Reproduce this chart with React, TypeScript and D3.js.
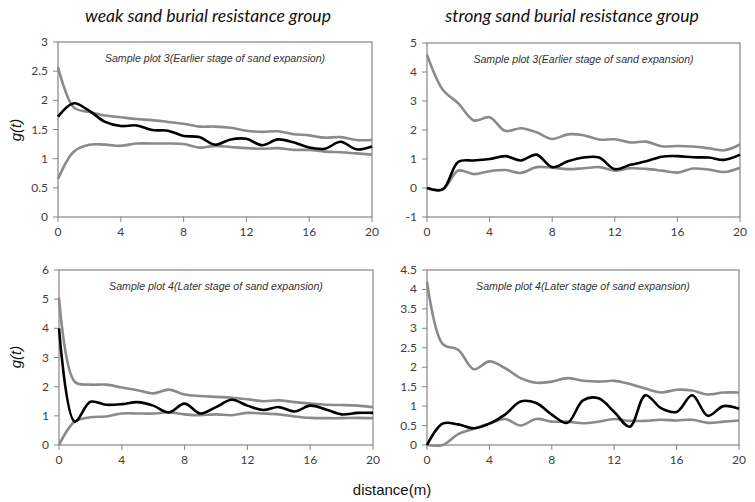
import * as d3 from 'd3'

const distance = [0, 1, 2, 3, 4, 5, 6, 7, 8, 9, 10, 11, 12, 13, 14, 15, 16, 17, 18, 19, 20]
const xTicks = [0, 4, 8, 12, 16, 20]

// weak group, plot 3
const weak3Upper = [2.57, 1.88, 1.8, 1.74, 1.71, 1.68, 1.66, 1.63, 1.6, 1.55, 1.55, 1.53, 1.48, 1.46, 1.47, 1.42, 1.4, 1.36, 1.37, 1.32, 1.32]
const weak3Obs = [1.72, 1.95, 1.82, 1.63, 1.56, 1.57, 1.49, 1.48, 1.39, 1.37, 1.24, 1.33, 1.34, 1.23, 1.33, 1.28, 1.19, 1.17, 1.29, 1.16, 1.21]
const weak3Lower = [0.65, 1.12, 1.24, 1.24, 1.22, 1.26, 1.26, 1.26, 1.25, 1.19, 1.22, 1.2, 1.18, 1.17, 1.18, 1.15, 1.15, 1.12, 1.11, 1.09, 1.07]

// strong group, plot 3
const strong3Upper = [4.6, 3.4, 2.92, 2.33, 2.44, 1.97, 2.06, 1.92, 1.69, 1.85, 1.82, 1.67, 1.68, 1.57, 1.6, 1.44, 1.45, 1.43, 1.37, 1.3, 1.5]
const strong3Obs = [0, -0.05, 0.9, 0.95, 1.0, 1.1, 0.95, 1.15, 0.72, 0.92, 1.05, 1.05, 0.65, 0.8, 0.92, 1.08, 1.1, 1.06, 1.05, 0.97, 1.15]
const strong3Lower = [0, -0.05, 0.6, 0.48, 0.58, 0.62, 0.52, 0.72, 0.7, 0.65, 0.68, 0.72, 0.6, 0.68, 0.66, 0.6, 0.53, 0.67, 0.64, 0.55, 0.7]

// weak group, plot 4
const weak4Upper = [5.05, 2.17, 2.07, 2.07, 1.97, 1.88, 1.77, 1.9, 1.73, 1.68, 1.65, 1.62, 1.57, 1.5, 1.53, 1.47, 1.42, 1.38, 1.37, 1.35, 1.3]
const weak4Obs = [4.0, 0.8, 1.48, 1.38, 1.4, 1.47, 1.35, 1.12, 1.42, 1.08, 1.3, 1.55, 1.35, 1.2, 1.3, 1.15, 1.35, 1.22, 1.05, 1.1, 1.1]
const weak4Lower = [0, 0.8, 0.95, 0.98, 1.08, 1.08, 1.08, 1.12, 1.05, 1.02, 1.05, 1.02, 1.1, 1.08, 1.05, 0.98, 0.93, 0.92, 0.92, 0.93, 0.92]

// strong group, plot 4
const strong4Upper = [4.2, 2.6, 2.45, 1.95, 2.15, 1.98, 1.72, 1.6, 1.63, 1.72, 1.65, 1.63, 1.65, 1.57, 1.45, 1.35, 1.42, 1.4, 1.3, 1.35, 1.35]
const strong4Obs = [0, 0.55, 0.53, 0.43, 0.55, 0.78, 1.12, 1.08, 0.78, 0.57, 1.15, 1.2, 0.85, 0.47, 1.28, 0.95, 0.85, 1.28, 0.75, 1.0, 0.93]
const strong4Lower = [0, 0, 0.28, 0.42, 0.55, 0.67, 0.5, 0.67, 0.6, 0.6, 0.56, 0.6, 0.67, 0.62, 0.62, 0.65, 0.63, 0.65, 0.57, 0.6, 0.63]

const titles = ['weak sand burial resistance group', 'strong sand burial resistance group']
const plotLabels = ['Sample plot 3(Earlier stage of sand expansion)', 'Sample plot 4(Later stage of sand expansion)']

const GRAY = '#8a8a8a'
const FRAME = '#868686'

type PanelProps = {
  left: number
  top: number
  width: number
  height: number
  yDomain: [number, number]
  yTicks: number[]
  label: string
  upper: number[]
  obs: number[]
  lower: number[]
}

function Panel({ left, top, width, height, yDomain, yTicks, label, upper, obs, lower }: PanelProps) {
  const x = d3.scaleLinear().domain([0, 20]).range([0, width])
  const y = d3.scaleLinear().domain(yDomain).range([height, 0])
  const line = d3
    .line<number>()
    .x((_, i) => x(distance[i]))
    .y((d) => y(d))
    .curve(d3.curveCatmullRom.alpha(0.5))

  return (
    <g transform={`translate(${left}, ${top})`}>
      <rect x={0} y={0} width={width} height={height} fill="none" stroke={FRAME} strokeWidth={1.2} />
      {yTicks.map((t) => (
        <g key={`y-${t}`} transform={`translate(0, ${y(t)})`}>
          <line x1={-5} x2={0} stroke={FRAME} />
          <text x={-10} y={4} textAnchor="end" fontFamily="Lato, 'Open Sans', sans-serif" fontSize={12} fill="#404040">
            {t}
          </text>
        </g>
      ))}
      {xTicks.map((t) => (
        <g key={`x-${t}`} transform={`translate(${x(t)}, ${height})`}>
          <line y1={0} y2={5} stroke={FRAME} />
          <text y={19} textAnchor="middle" fontFamily="Lato, 'Open Sans', sans-serif" fontSize={12} fill="#404040">
            {t}
          </text>
        </g>
      ))}
      <text
        x={width / 2}
        y={20}
        textAnchor="middle"
        fontFamily="'Liberation Sans', Arial, sans-serif"
        fontStyle="italic"
        fontSize={10.6}
        fill="#333"
      >
        {label}
      </text>
      <path d={line(upper) ?? ''} fill="none" stroke={GRAY} strokeWidth={2.6} />
      <path d={line(lower) ?? ''} fill="none" stroke={GRAY} strokeWidth={2.6} />
      <path d={line(obs) ?? ''} fill="none" stroke="#000" strokeWidth={2.6} />
    </g>
  )
}

export default function App() {
  return (
    <svg width={755} height={502} style={{ position: 'absolute', left: 0, top: 0, background: '#fff' }}>
      <rect width={755} height={502} fill="#fff" />
      <text x={208} y={22} textAnchor="middle" fontFamily="Lato, 'Open Sans', sans-serif" fontStyle="italic" fontSize={17.6} fill="#111">
        {titles[0]}
      </text>
      <text x={572} y={22} textAnchor="middle" fontFamily="Lato, 'Open Sans', sans-serif" fontStyle="italic" fontSize={17.6} fill="#111">
        {titles[1]}
      </text>

      <Panel left={58} top={42} width={314} height={175} yDomain={[0, 3]} yTicks={d3.range(0, 3.01, 0.5)} label={plotLabels[0]} upper={weak3Upper} obs={weak3Obs} lower={weak3Lower} />
      <Panel left={427} top={43} width={313} height={174} yDomain={[-1, 5]} yTicks={d3.range(-1, 5.01, 1)} label={plotLabels[0]} upper={strong3Upper} obs={strong3Obs} lower={strong3Lower} />
      <Panel left={59} top={270} width={314} height={175} yDomain={[0, 6]} yTicks={d3.range(0, 6.01, 1)} label={plotLabels[1]} upper={weak4Upper} obs={weak4Obs} lower={weak4Lower} />
      <Panel left={427} top={270} width={312} height={175} yDomain={[0, 4.5]} yTicks={d3.range(0, 4.51, 0.5)} label={plotLabels[1]} upper={strong4Upper} obs={strong4Obs} lower={strong4Lower} />

      {[130, 357].map((cy) => (
        <text
          key={cy}
          transform={`translate(21, ${cy}) rotate(-90)`}
          textAnchor="middle"
          fontFamily="'Liberation Sans', Arial, sans-serif"
          fontStyle="italic"
          fontSize={15}
          fill="#111"
        >
          g(t)
        </text>
      ))}
      <text x={392} y={495} textAnchor="middle" fontFamily="'Liberation Sans', Arial, sans-serif" fontSize={15} fill="#111">
        distance(m)
      </text>
    </svg>
  )
}
